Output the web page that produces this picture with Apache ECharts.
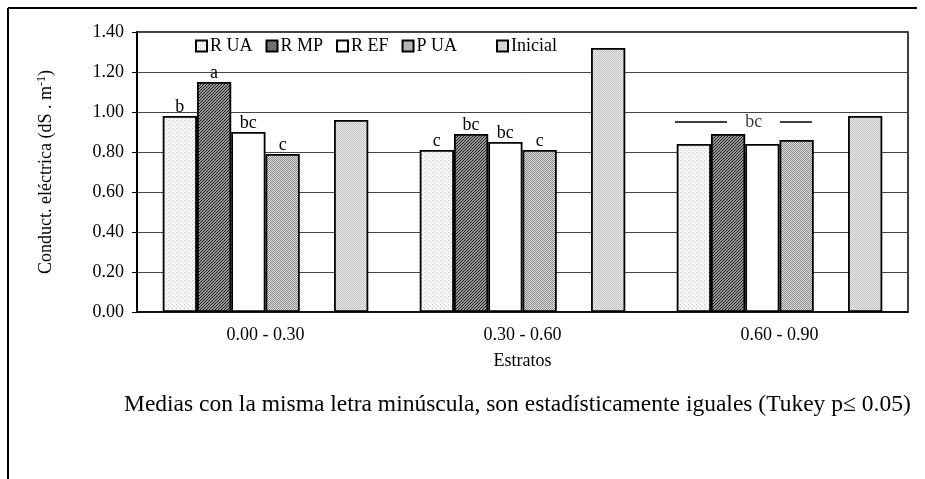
<!DOCTYPE html>
<html>
<head>
<meta charset="utf-8">
<script src="https://cdn.jsdelivr.net/npm/echarts@6/dist/echarts.min.js"></script>
<style>
  html, body { margin: 0; padding: 0; background: #fff; }
  #chart { width: 925px; height: 479px; }
</style>
</head>
<body>
<div id="chart"></div>
<script>
// datos
const estratos = ['0.00 - 0.30', '0.30 - 0.60', '0.60 - 0.90'];

const rUA = [0.98, 0.81, 0.84];
const rMP = [1.15, 0.89, 0.89];
const rEF = [0.90, 0.85, 0.84];
const pUA = [0.79, 0.81, 0.86];
const inicial = [0.96, 1.32, 0.98];

// letras de Tukey sobre cada barra
const letrasRUA = ['b', 'c', ''];
const letrasRMP = ['a', 'bc', ''];
const letrasREF = ['bc', 'bc', ''];
const letrasPUA = ['c', 'c', ''];

// letra comun del tercer estrato (linea + texto)
const letraComun = 'bc';
const comunNivel = 0.95;

const FONT = '"Liberation Serif", "Times New Roman", serif';

// tramas tipo Excel hechas con canvas
function makePattern(size, bg, fg, cells) {
    const c = document.createElement('canvas');
    c.width = size; c.height = size;
    const ctx = c.getContext('2d');
    ctx.fillStyle = bg;
    ctx.fillRect(0, 0, size, size);
    ctx.fillStyle = fg;
    cells.forEach(p => ctx.fillRect(p[0], p[1], 1, 1));
    return { image: c, repeat: 'repeat' };
}

const patRUA = makePattern(4, '#f6f6f6', '#c4c4c4', [[0, 0], [2, 2]]);
const patRMP = makePattern(3, '#9a9a9a', '#1a1a1a', [[0, 2], [1, 1], [2, 0]]);
const patPUA = makePattern(2, '#dedede', '#8a8a8a', [[0, 0], [1, 1]]);
const patIni = makePattern(2, '#e6e6e6', '#c6c6c6', [[0, 0], [1, 1]]);

const chart = echarts.init(document.getElementById('chart'), null, { renderer: 'canvas' });

const letterLabel = (letras) => ({
    show: true,
    position: 'top',
    distance: 0,
    color: '#000',
    fontFamily: FONT,
    fontSize: 18,
    formatter: p => letras[p.dataIndex]
});

const barBorder = { borderColor: '#000', borderWidth: 1.8 };
const legendText = { fontFamily: FONT, fontSize: 18, color: '#000', padding: [0, 0, 0, -2] };

const option = {
    animation: false,
    backgroundColor: '#fff',
    textStyle: { fontFamily: FONT, color: '#000' },
    grid: {
        left: 137, right: 17, top: 32, bottom: 167,
        show: true, borderColor: '#000', borderWidth: 1.5
    },
    legend: [
        {
            data: ['R UA', 'R MP', 'R EF', 'P UA'],
            left: 190, top: 32,
            itemWidth: 11, itemHeight: 11, itemGap: 13,
            icon: 'rect',
            textStyle: legendText
        },
        {
            data: ['Inicial'],
            left: 491, top: 32,
            itemWidth: 11, itemHeight: 11,
            icon: 'rect',
            textStyle: legendText
        }
    ],
    xAxis: [
        {
            type: 'category',
            data: estratos,
            name: 'Estratos',
            nameLocation: 'middle',
            nameGap: 40,
            nameTextStyle: { fontFamily: FONT, fontSize: 18, color: '#000' },
            axisLine: { lineStyle: { color: '#000', width: 1.5 } },
            axisTick: { length: 6, lineStyle: { color: '#000' } },
            axisLabel: { fontFamily: FONT, fontSize: 18, color: '#000', margin: 14 }
        },
        {
            // eje auxiliar oculto para la linea de letra comun
            type: 'value', min: 0, max: 3, show: false
        }
    ],
    yAxis: {
        type: 'value',
        min: 0, max: 1.4, interval: 0.2,
        name: '{n|Conduct. eléctrica (dS . m}{s|-1}{n|)}',
        nameLocation: 'middle',
        nameGap: 80,
        nameRotate: 90,
        nameTextStyle: {
            rich: {
                n: { fontFamily: FONT, fontSize: 18, color: '#000' },
                s: { fontFamily: FONT, fontSize: 12, color: '#000', verticalAlign: 'top', padding: [0, 0, 9, 0] }
            }
        },
        axisLine: { show: true, lineStyle: { color: '#000', width: 2 } },
        axisTick: { show: true, length: 5, lineStyle: { color: '#000' } },
        axisLabel: {
            fontFamily: FONT, fontSize: 18, color: '#000', margin: 13,
            formatter: v => v.toFixed(2)
        },
        splitLine: { lineStyle: { color: '#444', width: 1 } }
    },
    series: [
        { name: 'R UA', type: 'bar', data: rUA, barGap: '0%', barCategoryGap: '20%',
          itemStyle: Object.assign({ color: patRUA }, barBorder), label: letterLabel(letrasRUA) },
        { name: 'R MP', type: 'bar', data: rMP,
          itemStyle: Object.assign({ color: patRMP }, barBorder), label: letterLabel(letrasRMP) },
        { name: 'R EF', type: 'bar', data: rEF,
          itemStyle: Object.assign({ color: '#fff' }, barBorder), label: letterLabel(letrasREF) },
        { name: 'P UA', type: 'bar', data: pUA,
          itemStyle: Object.assign({ color: patPUA }, barBorder), label: letterLabel(letrasPUA) },
        { name: 'hueco', type: 'bar', data: ['-', '-', '-'] },
        { name: 'Inicial', type: 'bar', data: inicial,
          itemStyle: Object.assign({ color: patIni }, barBorder) },
        {
            name: 'comun1', type: 'line', xAxisIndex: 1, symbol: 'none',
            lineStyle: { color: '#000', width: 1.5 },
            data: [[2.093, comunNivel], [2.296, comunNivel]]
        },
        {
            name: 'comun2', type: 'line', xAxisIndex: 1, symbol: 'none',
            lineStyle: { color: '#000', width: 1.5 },
            data: [[2.502, comunNivel], [2.626, comunNivel]]
        },
        {
            name: 'comunTxt', type: 'scatter', xAxisIndex: 1, symbolSize: 0,
            data: [[2.40, comunNivel]],
            label: {
                show: true, position: 'inside', color: '#000',
                fontFamily: FONT, fontSize: 18, formatter: () => letraComun
            }
        }
    ],
    graphic: [
        { type: 'line', shape: { x1: 8, y1: 8, x2: 917, y2: 8 }, style: { stroke: '#000', lineWidth: 2 } },
        { type: 'line', shape: { x1: 8, y1: 8, x2: 8, y2: 479 }, style: { stroke: '#000', lineWidth: 2 } },
        {
            type: 'text', left: 124, top: 393,
            style: {
                text: 'Medias con la misma letra minúscula, son estadísticamente iguales (Tukey p\u2264 0.05)',
                fontFamily: FONT, fontSize: 23.5, fill: '#000'
            }
        }
    ]
};

chart.setOption(option);
</script>
</body>
</html>
